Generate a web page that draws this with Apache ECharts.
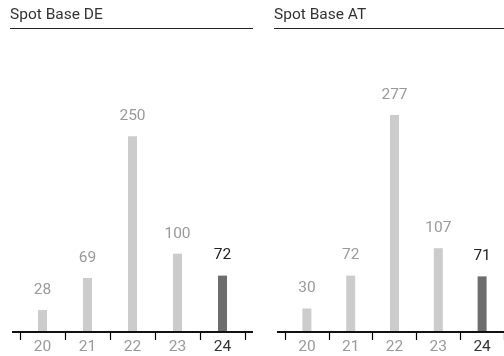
<!DOCTYPE html>
<html>
<head>
<meta charset="utf-8">
<script src="https://cdn.jsdelivr.net/npm/echarts@6/dist/echarts.min.js"></script>
<style>
  html, body { margin: 0; padding: 0; background: #fff; }
  #chart { width: 504px; height: 356px; }
</style>
</head>
<body>
<div id="chart"></div>
<script>
// Yearly spot base prices, two markets
const years = ['20', '21', '22', '23', '24'];
const spotDE = [28, 69, 250, 100, 72];
const spotAT = [30, 72, 277, 107, 71];
const titles = ['Spot Base DE', 'Spot Base AT'];

const LIGHT = '#cccccd';
const DARK = '#6d6d6d';
const LABEL_LIGHT = '#999999';
const LABEL_DARK = '#222222';
const FONT = 'Roboto, "Helvetica Neue", Arial, sans-serif';

const last = years.length - 1;

function barData(values) {
  return values.map((v, i) => ({
    value: v,
    itemStyle: { color: i === last ? DARK : LIGHT },
    label: { color: i === last ? LABEL_DARK : LABEL_LIGHT }
  }));
}

const grids = [
  { left: 20, width: 225, top: 97, bottom: 24 },
  { left: 285, width: 225, top: 97, bottom: 24 }
];

const option = {
  animation: false,
  backgroundColor: '#ffffff',
  title: [
    { text: titles[0], left: 10, top: 7, padding: 0,
      textStyle: { fontFamily: FONT, fontSize: 15.5, fontWeight: 'normal', color: '#333333' } },
    { text: titles[1], left: 274, top: 7, padding: 0,
      textStyle: { fontFamily: FONT, fontSize: 15.5, fontWeight: 'normal', color: '#333333' } }
  ],
  grid: grids,
  xAxis: [0, 1].map(g => ({
    type: 'category',
    gridIndex: g,
    data: years,
    boundaryGap: true,
    axisLine: { show: false },
    axisTick: { show: true, alignWithLabel: false, length: 8, lineStyle: { color: '#000000', width: 1.2 } },
    axisLabel: {
      margin: 7,
      fontFamily: FONT,
      fontSize: 15.5,
      color: (val, idx) => (idx === last ? '#333333' : LABEL_LIGHT)
    },
    splitLine: { show: false }
  })),
  yAxis: [0, 1].map(g => ({
    type: 'value',
    gridIndex: g,
    min: 0,
    max: 300,
    show: false
  })),
  series: [spotDE, spotAT].map((vals, g) => ({
    type: 'bar',
    xAxisIndex: g,
    yAxisIndex: g,
    barWidth: 9,
    data: barData(vals),
    label: {
      show: true,
      position: 'top',
      distance: 12,
      fontFamily: FONT,
      fontSize: 15.5
    }
  })),
  graphic: [
    // title underlines
    { type: 'line', shape: { x1: 10, y1: 28.5, x2: 253, y2: 28.5 },
      style: { stroke: '#222222', lineWidth: 1 } },
    { type: 'line', shape: { x1: 274, y1: 28.5, x2: 504, y2: 28.5 },
      style: { stroke: '#222222', lineWidth: 1 } },
    // baselines, running a little past the outer ticks
    { type: 'line', z: 10, shape: { x1: 12, y1: 332, x2: 253, y2: 332 },
      style: { stroke: '#111111', lineWidth: 2 } },
    { type: 'line', z: 10, shape: { x1: 277, y1: 332, x2: 504, y2: 332 },
      style: { stroke: '#111111', lineWidth: 2 } }
  ]
};

const chart = echarts.init(document.getElementById('chart'), null, { renderer: 'canvas' });
chart.setOption(option);
</script>
</body>
</html>
